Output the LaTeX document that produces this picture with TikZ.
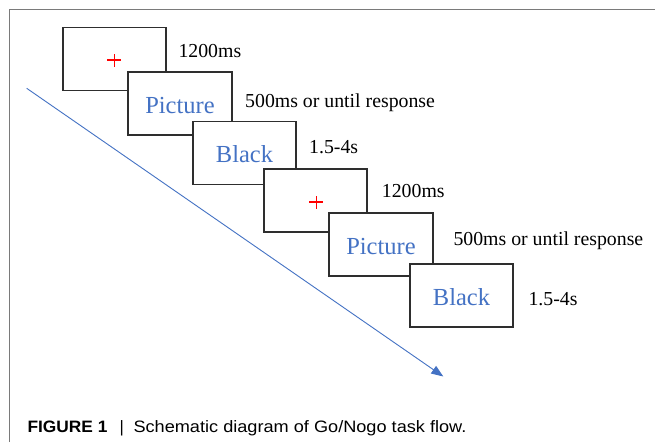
\documentclass[tikz,border=0pt]{standalone}
\usepackage{fontspec}
\setmainfont{Liberation Serif}
\newfontfamily\capfont{Liberation Sans}
\usetikzlibrary{arrows.meta}
\definecolor{stimblue}{HTML}{4472C4}
\definecolor{framegray}{HTML}{7A7A7A}
\definecolor{boxline}{HTML}{2E2E2E}
\definecolor{crossred}{HTML}{FF0000}
\begin{document}
\begin{tikzpicture}[x=1pt,y=-1pt,
  screen/.style={draw=boxline, line width=1.6pt, fill=white, rectangle,
    minimum width=103.5pt, minimum height=63pt, inner sep=0pt,
    text height=19pt, text depth=0pt, text=stimblue,
    font=\fontsize{24.5}{26}\selectfont},
  cross/.style={draw=crossred, line width=1.4pt},
  timing/.style={anchor=base west, inner sep=0pt,
    font=\fontsize{19.8}{22}\selectfont},
  capfig/.style={anchor=base west, inner sep=0pt, font=\capfont\fontsize{16.5}{18}\selectfont},
  timeline/.style={draw=stimblue, line width=0.9pt, -{Triangle[length=12pt,width=9pt]}}
]
\useasboundingbox (0,0) rectangle (655,442);
\fill[white] (0,0) rectangle (655,442);

% open frame: top and left rules
\coordinate (fbl) at (9,442);
\coordinate (ftl) at (9,9);
\coordinate (ftr) at (655,9);
\draw[framegray, line width=1pt] (fbl) -- (ftl) -- (ftr);

% time axis
\coordinate (tstart) at (26.7,88.3);
\coordinate (tend) at (443.3,376.5);
\draw[timeline] (tstart) -- (tend);

% stimulus screens, each laid over the previous one
\node[screen] (b1) at (114.5,59) {};
\node[screen] (b2) at (180,103.5) {Picture};
\node[screen] (b3) at (244.5,153) {Black};
\node[screen] (b4) at (315.5,200.5) {};
\node[screen] (b5) at (381,244.5) {Picture};
\node[screen] (b6) at (461.5,295.5) {Black};

% fixation crosses
\coordinate (c1) at (114.3,60);
\coordinate (c4) at (316.3,202);
\foreach \c in {c1,c4}
  \draw[cross] ([xshift=-7pt]\c) -- ([xshift=7pt]\c)
               ([yshift=-6.5pt]\c) -- ([yshift=6.5pt]\c);

% durations
\node[timing] (t1) at (178.3,57.3) {1200ms};
\node[timing] (t2) at (245,107.3) {500ms or until response};
\node[timing] (t3) at (309,153.3) {1.5-4s};
\node[timing] (t4) at (381.7,197.5) {1200ms};
\node[timing] (t5) at (453.3,245) {500ms or until response};
\node[timing] (t6) at (528.3,305) {1.5-4s};

% caption
\node[capfig] (cf) at (27.3,432) {\scalebox{1.05}[1]{\bfseries FIGURE 1}};
\node[capfig, anchor=base] (cb) at (121.7,432) {|};
\node[capfig] (ct) at (133.3,432) {\scalebox{1.10}[1]{Schematic diagram of Go/Nogo task flow.}};
\end{tikzpicture}
\end{document}
